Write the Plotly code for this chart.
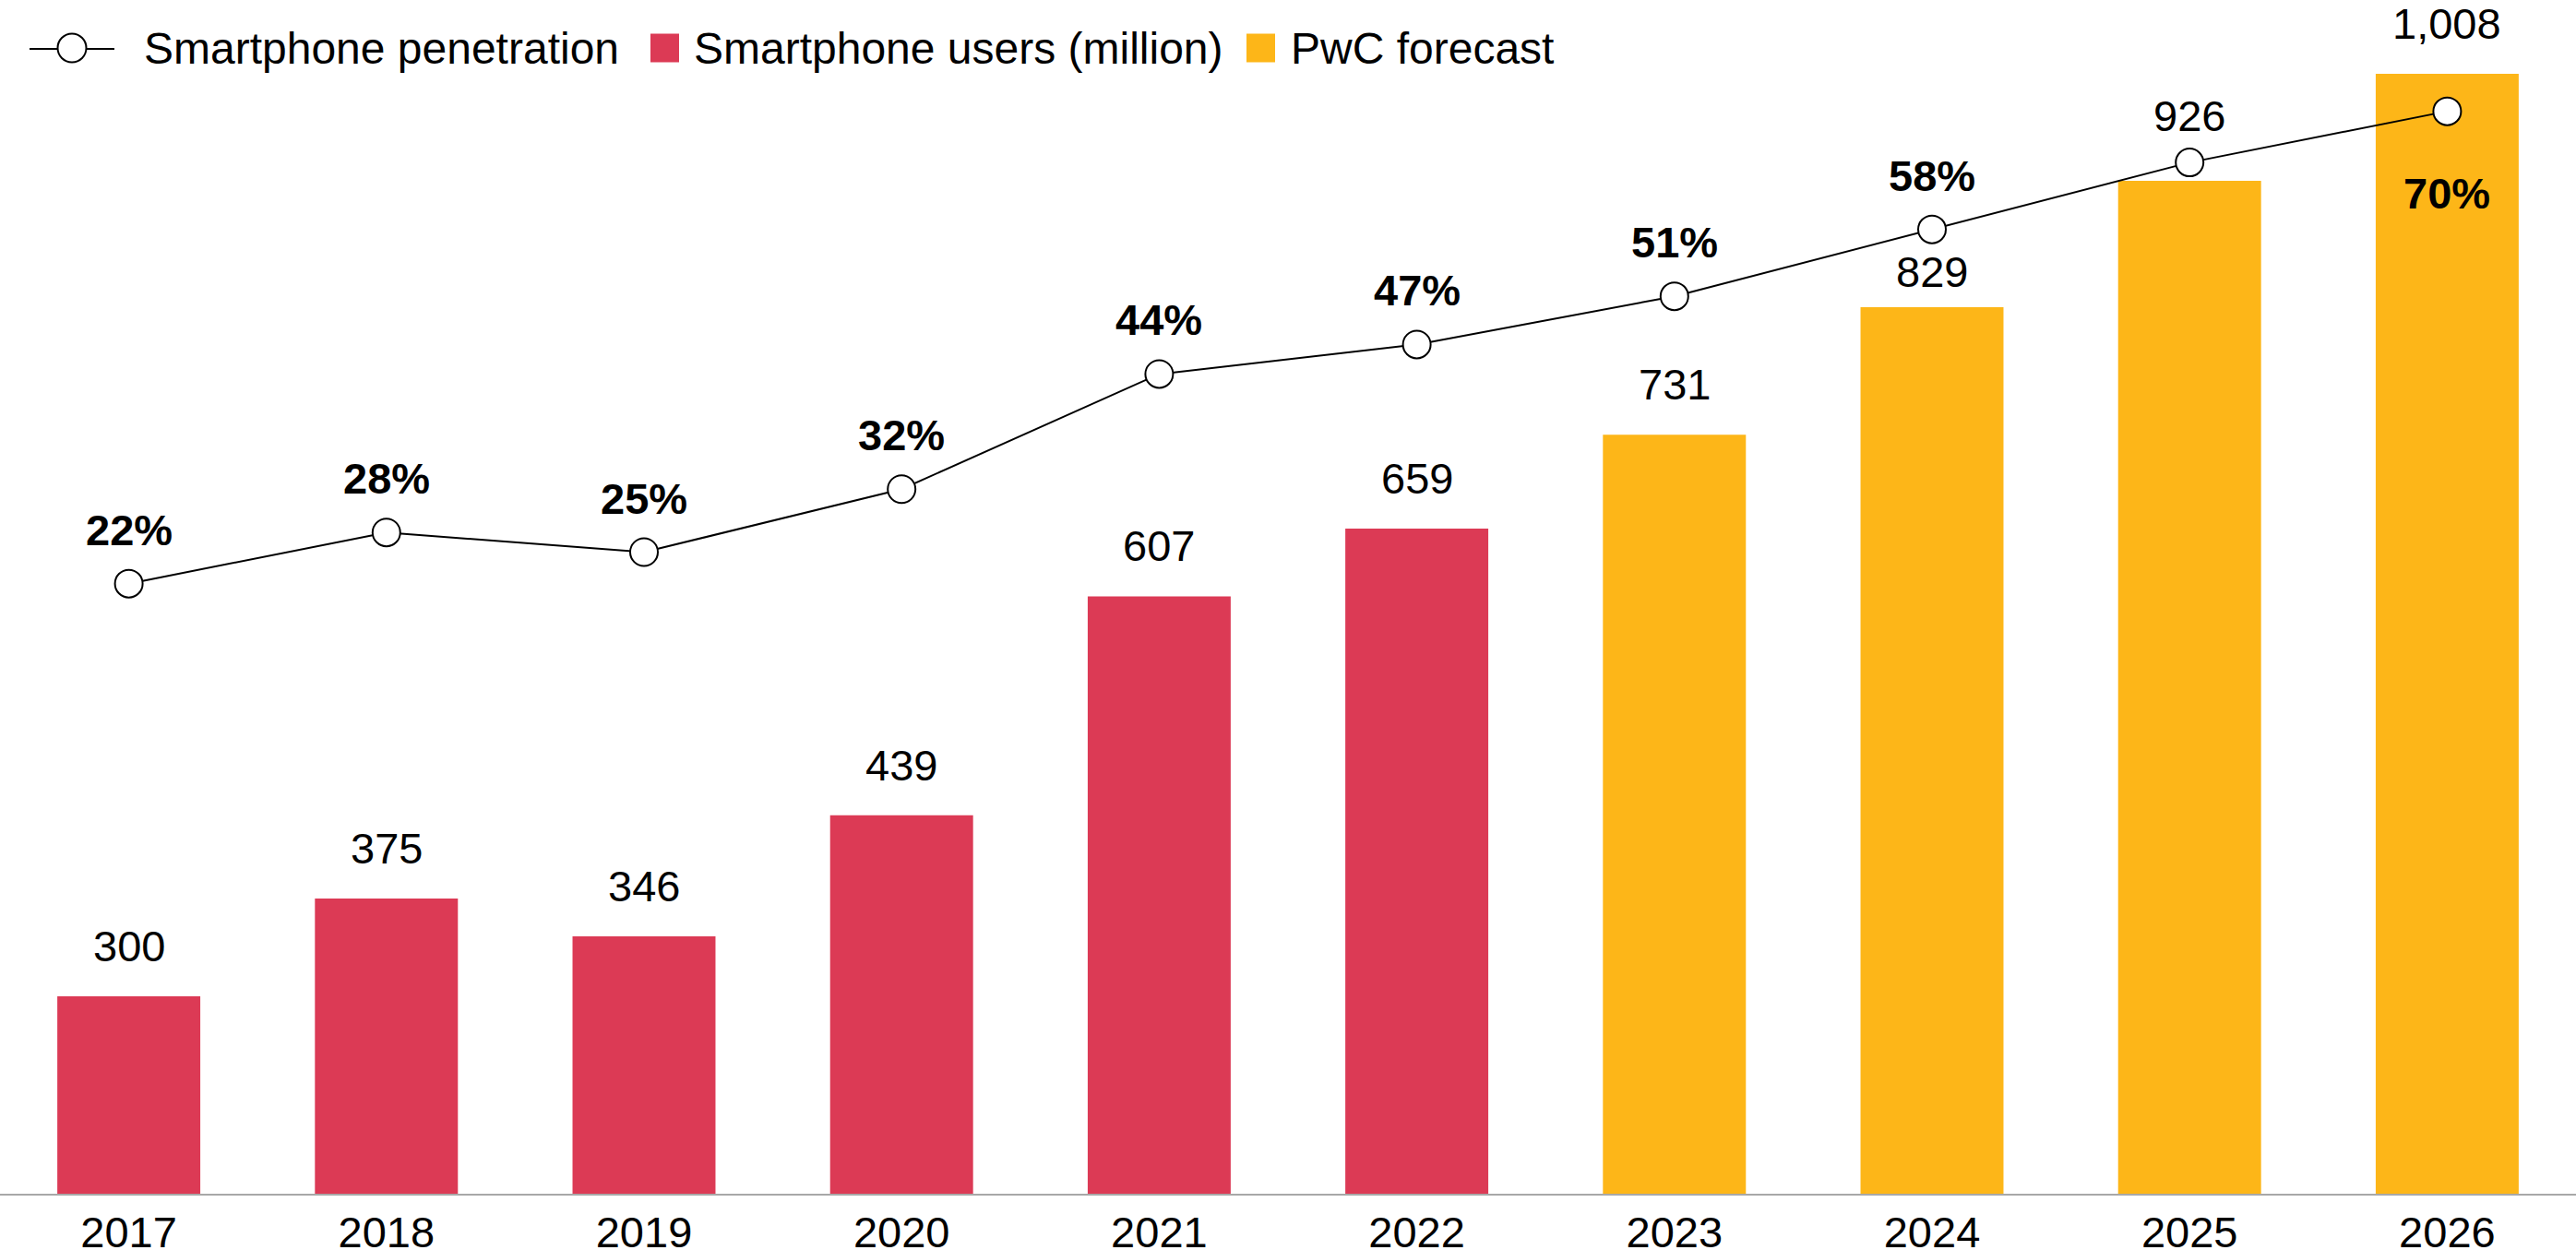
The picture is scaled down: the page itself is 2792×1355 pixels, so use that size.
import plotly.graph_objects as go

# ---------------- data ----------------
years = ["2017", "2018", "2019", "2020", "2021", "2022", "2023", "2024", "2025", "2026"]
hist_years = ["2017", "2018", "2019", "2020", "2021", "2022"]
hist_users = [300, 375, 346, 439, 607, 659]
fc_years = ["2023", "2024", "2025", "2026"]
fc_users = [731, 829, 926, 1008]
penetration = [22.0, 27.2, 25.2, 31.6, 43.3, 46.3, 51.2, 58.0, 64.8, 70.0]
pen_labels = ["22%", "28%", "25%", "32%", "44%", "47%", "51%", "58%", "", "70%"]
legend_names = ["Smartphone penetration", "Smartphone users (million)", "PwC forecast"]

# ---------------- style ----------------
W, H = 2792, 1355
MT, MB = 0, 61
PH = H - MT - MB
RED = "#DC3A55"
YELLOW = "#FDB618"
FONT = "Liberation Sans, Arial, Helvetica, sans-serif"
FS = 47
BAR_LABEL_SHIFT = 26
bar_label_shift_override = {"2024": 10, "2025": 42}   # nudged around the line markers


def py(px):
    """pixel row -> paper y"""
    return 1 - (px - MT) / PH


def pxx(px):
    return px / W


fig = go.Figure()
fig.add_trace(go.Bar(x=hist_years, y=hist_users, name=legend_names[1],
                     marker=dict(color=RED, line=dict(width=0)), showlegend=False,
                     hoverinfo="x+y"))
fig.add_trace(go.Bar(x=fc_years, y=fc_users, name=legend_names[2],
                     marker=dict(color=YELLOW, line=dict(width=0)), showlegend=False,
                     hoverinfo="x+y"))
fig.add_trace(go.Scatter(x=years, y=penetration, yaxis="y2", mode="lines+markers",
                         name=legend_names[0], showlegend=False,
                         line=dict(color="black", width=2),
                         marker=dict(size=30, color="white",
                                     line=dict(color="black", width=2))))

annotations = []
all_users = hist_users + fc_users
# on a category axis annotations use the category's serial index
for i, (yr, v) in enumerate(zip(years, all_users)):
    annotations.append(dict(x=i, y=v, xref="x", yref="y", text=f"{v:,}",
                            showarrow=False, yanchor="bottom",
                            yshift=bar_label_shift_override.get(yr, BAR_LABEL_SHIFT),
                            font=dict(family=FONT, size=FS, color="black")))
below = {"2026"}
for i, (yr, p, lab) in enumerate(zip(years, penetration, pen_labels)):
    if not lab:
        continue
    if yr in below:
        annotations.append(dict(x=i, y=p, xref="x", yref="y2", text=f"<b>{lab}</b>",
                                showarrow=False, yanchor="top", yshift=-60,
                                font=dict(family=FONT, size=FS, color="black")))
    else:
        annotations.append(dict(x=i, y=p, xref="x", yref="y2", text=f"<b>{lab}</b>",
                                showarrow=False, yanchor="bottom", yshift=30,
                                font=dict(family=FONT, size=FS, color="black")))

# custom legend
LEG_Y = 52
shapes = [
    dict(type="line", xref="paper", yref="paper", x0=pxx(32), x1=pxx(124),
         y0=py(LEG_Y + 1), y1=py(LEG_Y + 1), line=dict(color="black", width=2)),
    dict(type="circle", xref="paper", yref="paper", x0=pxx(62.5), x1=pxx(93.5),
         y0=py(LEG_Y - 15.5), y1=py(LEG_Y + 15.5), fillcolor="white",
         line=dict(color="black", width=2)),
    dict(type="rect", xref="paper", yref="paper", x0=pxx(705), x1=pxx(736),
         y0=py(LEG_Y - 15.5), y1=py(LEG_Y + 15.5), fillcolor=RED, line=dict(width=0)),
    dict(type="rect", xref="paper", yref="paper", x0=pxx(1351), x1=pxx(1382),
         y0=py(LEG_Y - 15.5), y1=py(LEG_Y + 15.5), fillcolor=YELLOW, line=dict(width=0)),
]
for name, x0 in zip(legend_names, [154, 750, 1397]):
    annotations.append(dict(x=pxx(x0), y=py(LEG_Y), xref="paper", yref="paper",
                            text=name, showarrow=False, xanchor="left", yanchor="middle",
                            font=dict(family=FONT, size=48, color="black")))

hidden = dict(showgrid=False, zeroline=False, showline=False, showticklabels=False,
              ticks="", automargin=False)

fig.update_layout(
    width=W, height=H,
    margin=dict(l=0, r=0, t=MT, b=MB, pad=0, autoexpand=False),
    paper_bgcolor="white", plot_bgcolor="white",
    barmode="overlay", bargap=0.445,
    showlegend=False,
    font=dict(family=FONT, size=FS, color="black"),
    xaxis=dict(type="category", categoryorder="array", categoryarray=years,
               range=[-0.5, 9.5], showgrid=False, zeroline=False, automargin=False,
               showline=True, linecolor="#a8a8a8", linewidth=2, ticks="",
               ticklabelstandoff=0,
               tickfont=dict(family=FONT, size=FS, color="black")),
    yaxis=dict(range=[148.5, 1064.7], **hidden),
    yaxis2=dict(range=[-40.0, 81.31], overlaying="y", side="right", **hidden),
    annotations=annotations,
    shapes=shapes,
)

fig.write_html("out.html", config={"displayModeBar": False},
               post_script="document.body.style.margin='0px';document.body.style.overflow='hidden';")
